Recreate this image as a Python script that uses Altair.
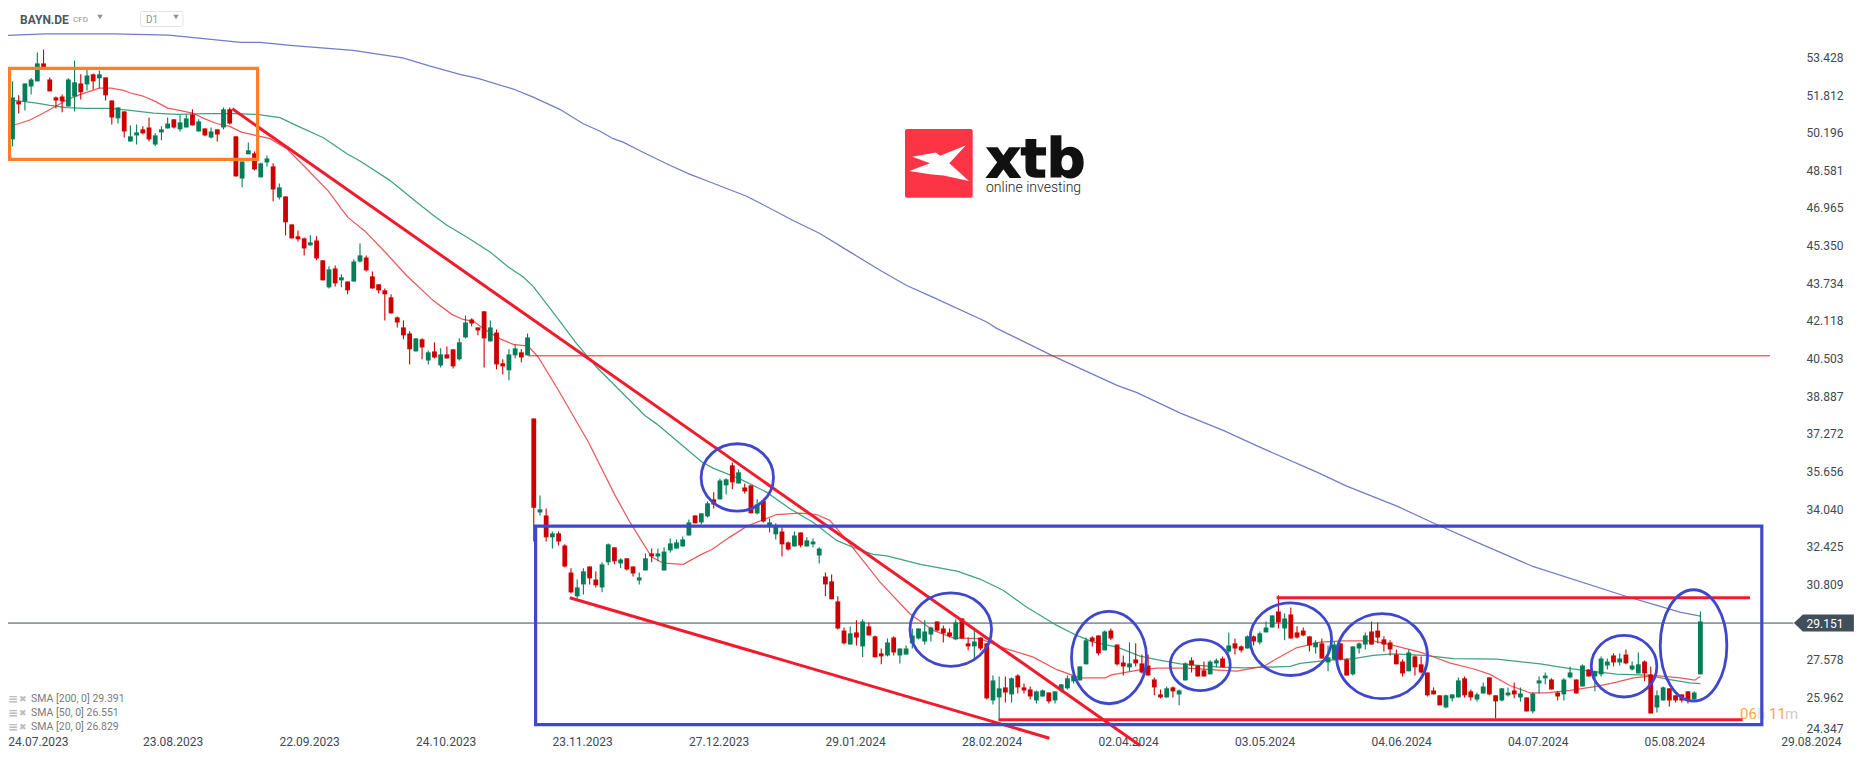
import json
import altair as alt
import pandas as pd

# ---------- candles (price units), bar by bar ----------
highs = [51.97,52.40,51.80,52.31,52.54,53.64,53.77,52.57,51.75,51.84,52.53,53.30,52.70,52.91,52.74,52.87,52.57,51.58,51.28,51.11,50.51,50.55,50.47,50.85,50.17,50.47,50.85,50.77,50.94,50.98,51.20,50.77,50.38,50.42,50.34,51.28,51.28,50.04,48.96,49.78,49.39,48.92,49.22,
 48.88,48.02,47.46,46.26,46.00,45.70,45.79,45.75,44.72,44.46,44.50,44.12,43.81,44.76,45.44,44.93,44.24,43.69,43.51,43.26,42.31,42.14,41.67,41.37,41.37,40.85,41.20,40.94,41.02,40.90,41.37,42.35,42.23,41.84,42.53,42.14,41.75,40.47,40.90,41.11,40.90,41.58,
 37.93,34.63,34.07,33.08,33.08,32.53,31.50,31.02,31.50,31.58,31.37,31.76,32.57,32.40,31.93,31.93,31.58,31.32,32.14,32.35,32.35,32.40,32.78,32.74,32.87,33.60,33.77,33.86,34.37,34.76,35.36,35.36,36.04,35.74,35.14,35.06,34.46,34.50,33.64,33.43,33.26,32.65,33.08,33.04,32.83,32.78,32.40,31.32,31.24,30.30,28.96,29.00,29.27,29.31,29.18,28.62,28.06,28.49,28.58,28.06,28.19,28.92,28.92,29.27,29.00,29.22,29.05,28.92,29.31,29.35,
 28.53,28.83,28.53,28.28,26.90,26.86,26.86,26.82,26.95,26.56,26.43,26.26,26.30,26.17,26.22,26.52,26.90,26.90,27.29,28.53,28.58,28.62,28.83,28.92,28.23,27.76,28.32,28.28,27.80,27.80,26.82,26.30,26.43,26.43,26.30,27.46,27.68,27.33,27.50,27.55,27.63,27.72,28.75,28.49,28.19,28.62,28.62,28.79,29.22,29.48,30.34,29.56,29.82,29.01,28.96,28.58,28.41,28.49,28.19,28.36,28.28,27.63,28.15,28.32,28.75,29.22,29.18,28.58,28.41,28.02,27.59,28.02,27.76,27.72,27.03,26.39,
 26.05,26.09,26.09,26.82,26.86,26.30,26.17,26.60,26.82,26.05,26.35,26.39,26.60,26.39,25.96,26.17,26.86,27.03,26.78,26.22,26.78,27.29,26.73,27.38,27.16,27.12,27.72,27.63,27.85,27.85,28.02,27.50,27.89,27.55,27.29,26.26,26.43,26.35,26.05,26.09,26.22,26.22,29.65]

body_tops = [51.65,51.71,51.54,52.31,52.48,53.17,53.17,52.48,51.71,51.75,52.48,52.36,52.31,52.65,52.70,52.70,52.57,51.58,51.28,51.11,50.04,50.21,50.34,50.42,50.08,50.34,50.59,50.77,50.64,50.81,50.98,50.68,50.38,50.25,50.34,51.20,51.20,50.04,48.96,49.44,49.31,48.88,49.09,
 48.75,47.85,47.46,46.26,45.75,45.66,45.49,45.57,44.72,44.33,44.37,43.99,43.81,44.67,44.93,44.84,44.03,43.69,43.43,43.13,42.27,41.84,41.58,41.37,41.33,40.77,40.81,40.68,40.68,40.90,41.20,42.05,42.18,41.84,42.53,41.84,41.62,40.30,40.68,40.94,40.77,41.41,
 37.93,34.03,33.77,33.00,33.00,32.48,31.32,30.68,31.37,31.58,31.02,31.67,32.53,32.40,31.88,31.93,31.58,31.11,31.93,32.14,32.14,32.22,32.57,32.61,32.74,33.47,33.77,33.86,34.29,34.46,35.27,35.32,35.92,35.62,34.97,35.06,34.24,34.41,33.47,33.30,33.08,32.61,32.91,33.04,32.70,32.65,32.35,31.15,30.94,30.08,28.83,28.71,28.75,29.22,29.01,28.58,27.85,28.32,28.53,28.06,28.06,28.62,28.92,28.79,28.96,29.22,28.92,28.75,29.18,29.35,
 28.28,28.36,28.53,28.28,26.69,26.35,26.39,26.78,26.90,26.39,26.30,26.22,26.26,26.17,26.22,26.52,26.78,26.90,27.29,28.41,28.53,28.62,28.79,28.83,28.23,27.46,27.42,27.59,27.42,27.33,26.73,26.09,26.35,26.39,26.26,27.42,27.55,27.33,27.12,27.50,27.55,27.63,28.19,28.28,28.15,28.58,28.58,28.71,28.96,29.48,29.65,29.35,29.52,28.75,28.83,28.58,28.32,28.28,27.68,28.23,28.28,27.59,28.15,28.28,28.62,28.79,28.83,28.45,28.32,27.80,27.50,27.89,27.72,27.38,27.03,26.26,
 26.05,26.05,26.09,26.69,26.78,26.22,26.09,26.43,26.82,26.05,26.35,26.17,26.26,26.13,25.96,26.13,26.69,26.90,26.73,26.17,26.73,27.03,26.73,27.33,27.16,27.08,27.63,27.50,27.76,27.63,27.80,27.33,27.38,27.50,26.95,26.05,26.39,26.35,26.05,26.09,26.22,26.17,29.22]

body_bottoms = [51.37,49.91,51.41,51.54,52.18,52.40,53.00,51.97,51.58,51.54,51.32,51.75,51.93,52.27,52.40,52.53,51.80,50.85,50.81,50.25,49.82,50.08,50.17,49.91,49.69,50.21,50.38,50.42,50.34,50.42,50.51,50.25,50.08,49.99,50.12,50.42,50.59,48.32,48.23,49.27,48.62,48.28,48.92,
 47.76,47.42,46.35,45.66,45.62,45.23,45.36,44.80,43.86,43.56,43.73,43.86,43.43,43.81,44.67,44.29,43.51,43.43,43.26,42.44,42.05,41.50,40.90,40.81,40.98,40.42,40.55,40.21,40.51,40.17,40.47,41.41,42.01,41.71,41.37,41.24,40.25,40.17,40.00,40.64,40.55,40.64,
 34.10,33.90,32.83,32.83,32.65,31.58,30.47,30.30,30.81,31.07,30.77,30.68,31.76,31.80,31.71,31.45,31.28,30.98,31.41,32.01,32.01,31.41,32.27,32.35,32.44,32.91,33.43,33.47,33.73,34.24,34.46,35.06,35.19,35.14,34.80,33.86,33.86,33.51,33.30,32.96,32.53,32.31,32.44,32.48,32.44,32.53,32.05,30.81,30.17,28.92,28.28,28.23,28.53,28.15,28.62,27.68,27.72,27.76,27.89,27.76,27.80,28.28,28.49,28.36,28.66,28.83,28.71,28.58,28.45,28.49,
 28.15,28.15,28.06,25.92,25.83,25.96,26.17,26.09,26.39,26.26,26.00,25.83,26.00,25.79,25.83,26.26,26.35,26.65,26.69,27.38,28.36,27.85,27.98,28.49,27.38,27.29,27.25,27.42,27.03,26.90,26.39,25.96,25.96,26.22,26.09,26.69,27.33,26.86,26.86,26.95,27.42,27.25,27.93,28.06,27.98,28.06,28.36,28.32,28.75,28.96,29.18,28.92,28.49,28.53,28.62,28.19,28.11,27.63,27.46,27.59,27.59,26.90,26.95,28.06,28.23,28.23,28.53,28.23,28.02,27.38,26.99,27.08,27.25,27.03,26.05,26.09,
 25.62,25.53,25.92,25.96,26.05,25.96,25.87,26.13,26.09,25.79,25.83,26.05,26.09,25.96,25.36,25.36,26.56,26.78,26.30,26.00,26.09,26.82,26.13,26.43,26.86,26.86,26.95,27.33,27.46,27.46,27.42,27.16,26.99,26.99,25.27,25.53,25.83,25.83,25.83,25.83,25.83,25.87,26.95]

lows = [51.11,49.61,51.02,51.15,51.84,52.40,53.00,51.97,51.24,51.07,51.32,51.11,51.62,52.01,52.05,52.10,51.58,50.55,50.59,49.99,49.82,49.69,50.12,49.82,49.61,49.87,50.38,50.38,50.25,50.42,50.51,50.25,50.04,49.95,49.82,50.34,50.55,48.32,47.85,49.27,48.58,48.28,48.75,
 47.25,47.33,45.79,45.66,45.53,44.93,45.36,44.72,43.86,43.51,43.60,43.56,43.26,43.81,44.63,44.24,43.51,43.30,42.14,42.44,41.84,41.33,40.25,40.81,40.47,40.25,40.51,40.12,40.51,40.08,40.42,41.37,41.88,41.50,40.12,41.24,40.04,39.82,39.57,40.51,40.34,40.64,
 32.65,33.77,32.65,32.35,32.48,31.54,30.42,30.21,30.38,30.81,30.68,30.47,31.63,31.67,31.50,31.41,31.15,30.81,31.41,31.76,31.80,31.41,32.18,32.35,32.44,32.91,33.43,33.38,33.68,34.07,34.46,34.67,34.89,35.14,34.71,33.86,33.81,33.47,33.04,32.74,32.01,32.27,32.44,32.40,32.44,32.40,31.71,30.30,30.17,28.88,28.23,28.23,28.19,27.68,28.62,27.68,27.38,27.72,27.76,27.42,27.80,28.06,28.45,28.23,28.36,28.79,28.32,28.53,28.41,28.49,
 27.98,27.63,27.98,25.87,25.66,24.97,25.74,25.74,26.13,26.13,25.87,25.70,26.00,25.70,25.70,26.17,26.30,26.56,26.69,27.38,28.15,27.76,27.98,28.41,27.33,26.90,27.08,27.29,26.99,26.90,26.05,25.92,25.96,25.96,25.62,26.69,27.03,26.86,26.86,26.95,27.25,27.25,27.85,27.80,27.89,28.06,28.19,28.23,28.75,28.96,28.92,28.41,28.49,28.49,28.58,27.93,27.85,27.63,27.08,27.55,27.55,26.90,26.90,27.85,28.02,28.23,28.28,27.93,27.76,27.38,26.86,27.08,26.90,26.99,26.00,26.09,
 25.62,25.49,25.79,25.96,25.96,25.83,25.79,26.13,26.05,25.06,25.79,26.00,25.92,25.79,25.36,25.27,26.13,26.52,26.30,25.83,25.83,26.78,26.13,26.43,26.86,26.22,26.86,27.16,27.29,27.33,27.38,27.12,26.99,26.65,25.27,25.31,25.83,25.57,25.74,25.74,25.70,25.83,26.95]

up_bars = [1,3,4,5,10,11,13,15,18,20,21,24,25,26,28,29,31,33,35,38,39,41,42,
           44,49,52,54,56,57,66,68,70,73,74,78,81,82,84,
           86,88,92,93,96,97,99,102,103,105,106,107,108,109,110,112,113,115,116,118,121,123,124,127,129,130,131,136,138,142,144,145,146,147,148,149,153,
           156,159,160,162,166,167,169,170,171,172,173,174,177,181,187,189,190,194,195,197,200,202,203,204,206,211,213,214,217,218,219,226,
           232,233,234,237,238,241,242,244,246,247,248,251,252,254,256,257,258,260,262,263,266,267,272,273]
directions = ["g" if n in up_bars else "r" for n in range(len(highs))]

# ---------- moving averages (bar number, price) ----------
sma200_bar = [0,6.2,17.3,26.2,37.8,40.9,46.2,55.9,63.9,68.3,73.1,76,81.7,84.9,89.2,92.9,95.7,97.8,99.4,102.6,107,110.2,113.4,119.3,121.5,126.8,131.1,136,140.8,145.1,149.3,158,159.6,168.7,179,182.2,189.2,196.1,202,211.2,216,224.1,230.5,237.5,246,261.1,266,269.7,273]
sma200_val = [54.37,54.44,54.44,54.38,54.07,54.07,53.93,53.73,53.41,53.05,52.70,52.53,52.07,51.72,51.20,50.59,50.26,49.94,49.79,49.36,48.79,48.41,48.08,47.47,47.17,46.43,45.87,45.07,44.29,43.64,43.14,42.07,41.80,40.61,39.35,39.04,38.16,37.42,36.70,35.63,35.03,34.17,33.38,32.56,31.58,30.29,29.91,29.62,29.45]

sma50_bar = [0,3,4.9,7,9.7,13,16.7,20,23.7,27.5,32.3,36.6,40.4,44.1,46.8,51.1,54.9,57,61.8,66.1,68.8,71,74.2,78,80.9,83.3,84.9,88.7,91.9,95.1,99.4,102.9,104.8,108,112.1,113.9,118.2,122.5,126.3,130,133.8,137,139.7,141.9,147.3,153.2,156.9,160.7,164.4,169.3,172.5,175.2,179,182.7,185.4,189.2,195.6,199.4,206.9,208.5,212.8,217.1,220.3,223.5,228.4,233.3,240.2,247.2,252,255.2,259.5,264.4,268.1,271.3,273]
sma50_val = [51.61,51.53,51.47,51.37,51.27,51.24,51.24,51.15,51.04,50.98,51.01,51.01,50.98,50.84,50.50,49.98,49.29,48.98,48.15,47.22,46.65,46.22,45.72,45.07,44.43,44.0,43.6,42.28,41.14,40.14,38.99,38.06,37.70,36.99,36.06,35.80,35.34,34.77,34.06,33.48,32.70,32.34,32.10,32.03,31.67,31.38,31.04,30.55,29.84,29.05,28.62,28.33,28.12,27.73,27.58,27.40,27.26,27.23,27.29,27.42,27.55,27.62,27.76,27.83,27.76,27.62,27.60,27.40,27.20,27.09,26.96,26.92,26.72,26.58,26.55]

sma20_bar = [0,2,3.9,6,7.9,10,11.9,13.9,15,16.9,18.9,20,21.9,24,26,27.9,30,31.9,34,36,37.9,40,42.5,45.2,47.9,51.9,54,55.1,57.8,61.3,64.5,68.8,71.8,73.6,75.3,76.9,79.6,81.7,84.1,85.7,89,93.8,98.1,100.5,104,105.9,109.1,112,113.7,116.6,119.3,124.1,127.9,130.6,132.7,135.9,140.8,145.6,149.4,152.6,156.9,160.7,165.5,169.3,173,177.1,178.1,182.2,185.4,190.2,196.1,198.3,202.6,204.7,207.9,211.7,215.4,220.3,223.5,227.8,229.4,232.7,236.4,239.1,242.3,245.6,248.2,252,256.3,259.5,262.2,265.9,269.7,272.1,273]
sma20_val = [50.47,50.58,50.75,51.04,51.32,51.64,51.83,52.01,52.11,52.11,52.01,51.90,51.78,51.54,51.25,51.15,51.04,50.80,50.58,50.47,50.22,50.09,49.94,49.51,48.79,47.69,46.93,46.55,45.97,45.00,44.07,42.99,42.40,42.18,42.10,41.78,41.35,41.11,41.04,40.57,39.13,36.92,34.63,33.48,31.98,31.72,31.67,32.10,32.31,32.84,33.30,33.81,33.87,33.81,33.56,32.56,30.91,29.55,28.83,28.52,28.48,28.09,27.69,27.15,26.80,26.80,26.93,27.12,27.22,27.22,27.12,27.09,27.29,27.62,28.09,28.33,28.39,28.39,28.19,27.90,27.76,27.43,27.19,26.95,26.47,26.15,26.15,26.26,26.43,26.62,26.80,26.90,26.80,26.70,26.86]

# ---------- axes ----------
date_labels = ["24.07.2023","23.08.2023","22.09.2023","24.10.2023","23.11.2023","27.12.2023","29.01.2024","28.02.2024","02.04.2024","03.05.2024","04.06.2024","04.07.2024","05.08.2024","29.08.2024"]
date_bars = [5.3,27,49,71,93,115,137,159,181,203,225,247,269,291]
price_ticks = [53.428,51.812,50.196,48.581,46.965,45.350,43.734,42.118,40.503,38.887,37.272,35.656,34.040,32.425,30.809,29.151,27.578,25.962,24.347]
last_price = 29.151

# ---------- hand-drawn annotations (bar number, price) ----------
trend_bar1 = [36.42, 90.8, 159.9, 204.7]
trend_bar2 = [182.7, 168.1, 279.8, 281.0]
trend_p1 = [51.22, 30.24, 25.0, 30.24]
trend_p2 = [23.90, 24.21, 25.0, 30.24]
ell_bar = [117.8,152.2,177.7,192.4,207,221.7,260.7,271.9]
ell_price = [35.40,28.87,27.67,27.35,28.46,27.73,27.30,28.19]
ell_halfw = [36.2,40.8,37.5,30,40.8,45.5,32.8,33.3]
ell_halfh = [33.7,36.7,46.2,25.5,36.3,42.5,30.8,55.7]

RED = "#cc0000"; GREEN = "#057d58"; BLUE = "#3f48cc"; LINE_RED = "#f01c2e"; ORANGE = "#ff7f27"
TEXT = "#3d4a54"

xs = alt.Scale(domain=[0.274, 298.4], nice=False, zero=False)
ys = alt.Scale(domain=[24.347, 55.548], nice=False, zero=False)
x_axis = alt.Axis(
    values=date_bars, labelExpr=json.dumps(date_labels)+"[round((datum.value-5)/22)]", title=None,
    domain=False, ticks=False, grid=False, labelFont="Roboto", labelFontSize=12, labelColor=TEXT,
    labelPadding=1, labelOffset=-1.3, labelOverlap=False, labelAngle=0, labelFlush=False)
y_axis = alt.Axis(
    orient="right", offset=-52, values=price_ticks, format=".3f", title=None, domain=False, ticks=False, grid=False,
    labelFont="Roboto", labelFontSize=12, labelPadding=0, labelOverlap=False, labelFlush=True, zindex=1,
    labelColor=alt.expr(f"datum.value=={last_price}?'#ffffff':'{TEXT}'"))
def X(f): return alt.X(f, type="quantitative", scale=xs, axis=x_axis)
def Y(f): return alt.Y(f, type="quantitative", scale=ys, axis=y_axis)

candles = pd.DataFrame(dict(i=range(len(highs)), h=highs, t=body_tops, b=body_bottoms, l=lows, d=directions))
color = alt.Color("d:N", scale=alt.Scale(domain=["r","g"], range=[RED, GREEN]), legend=None)

wicks = alt.Chart(candles).mark_rule(strokeWidth=1.1).encode(x=X("i"), y=Y("h"), y2="l:Q", color=color)
bodies = alt.Chart(candles).mark_rule(strokeWidth=4.8).encode(x=X("i"), y=Y("t"), y2="b:Q", color=color)

def sma(bar, val, col, w=1.25):
    return alt.Chart(pd.DataFrame(dict(i=bar, p=val))).mark_line(color=col, strokeWidth=w, opacity=0.85).encode(x=X("i"), y=Y("p"))
sma_layers = [sma(sma200_bar, sma200_val, "#5a64bd"), sma(sma50_bar, sma50_val, "#1d9068"), sma(sma20_bar, sma20_val, "#e53c40")]

level = alt.Chart(pd.DataFrame(dict(a=[84.1], c=[284.2], p=[40.62]))).mark_rule(color="#e3202e", strokeWidth=1).encode(x=X("a"), x2="c:Q", y=Y("p"))
price_line = alt.Chart(pd.DataFrame(dict(a=[0.274], c=[288.0], p=[last_price]))).mark_rule(color="#3d4c57", strokeWidth=1).encode(x=X("a"), x2="c:Q", y=Y("p"))

trends = alt.Chart(pd.DataFrame(dict(a=trend_bar1, c=trend_bar2, p=trend_p1, q=trend_p2))).mark_rule(color=LINE_RED, strokeWidth=3).encode(
    x=X("a"), x2="c:Q", y=Y("p"), y2="q:Q")

def box(b1, b2, p1, p2, col):
    return alt.Chart(pd.DataFrame(dict(a=[b1], c=[b2], p=[p1], q=[p2]))).mark_rect(fillOpacity=0, stroke=col, strokeWidth=3.2).encode(
        x=X("a"), x2="c:Q", y=Y("p"), y2="q:Q")
orange_box = box(0.52, 40.5, 52.96, 49.05, ORANGE)
blue_box = box(85.3, 282.9, 33.31, 24.79, BLUE)

ellipses = []
for b, p, a, h in zip(ell_bar, ell_price, ell_halfw, ell_halfh):
    r = max(a, h)
    ra, rb = a/r, h/r
    path = f"M{-ra:.3f},0 A{ra:.3f},{rb:.3f} 0 1,1 {ra:.3f},0 A{ra:.3f},{rb:.3f} 0 1,1 {-ra:.3f},0 Z"
    ellipses.append(alt.Chart(pd.DataFrame(dict(i=[b], p=[p]))).mark_point(
        shape=path, size=(2*r)**2, filled=False, stroke=BLUE, strokeWidth=2.8, opacity=1).encode(x=X("i"), y=Y("p")))

tag = alt.Chart(pd.DataFrame(dict(i=[292.9], p=[last_price]))).mark_point(
    shape="M-1,0 L-0.7,-0.283 L1,-0.283 L1,0.283 L-0.7,0.283 Z", size=3600, filled=True, fill="#404f5a", strokeWidth=0, opacity=1
).encode(x=X("i"), y=Y("p"))

# ---------- page furniture, placed in pixels ----------
OX, OY = 8, 8
def txt(s, x, y, size=12, col=TEXT, font="Roboto", weight="normal", align="left", baseline="middle", **kw):
    return alt.Chart(pd.DataFrame(dict(t=[s]))).mark_text(
        font=font, fontSize=size, color=col, fontWeight=weight, align=align, baseline=baseline, **kw
    ).encode(x=alt.value(x-OX), y=alt.value(y-OY), text="t:N")
def glyph(path, x, y, size, fill):
    return alt.Chart(pd.DataFrame(dict(t=[1]))).mark_point(shape=path, size=size, filled=True, fill=fill, strokeWidth=0, opacity=1).encode(
        x=alt.value(x-OX), y=alt.value(y-OY))
def pxrect(x1, x2, y1, y2, **kw):
    return alt.Chart(pd.DataFrame(dict(t=[1]))).mark_rect(**kw).encode(
        x=alt.value(x1-OX), x2=alt.value(x2-OX), y=alt.value(y1-OY), y2=alt.value(y2-OY))

chrome = [
    txt("BAYN.DE", 20, 19.5, 12, "#4b5762", weight="bold"),
    txt("CFD", 73, 20, 8, "#8a9299"),
    glyph("triangle-down", 100, 17, 30, "#8a9299"),
    pxrect(140.5, 183, 11.5, 26.5, fillOpacity=0, stroke="#dfe3e6", strokeWidth=1, cornerRadius=2),
    txt("D1", 146, 20, 10, "#8a9299"),
    glyph("triangle-down", 176, 17, 30, "#8a9299"),
    pxrect(905, 972.7, 129, 197.7, fill="#fd3446", cornerRadius=2),
    glyph("M-0.784,-0.196 L-0.09,-0.32 L0.03,-0.22 L0.784,-0.52 L0.304,0 L0.882,0.52 L0.13,0.36 L-0.265,0.324 L-0.873,0.225 L-0.265,0 Z", 939, 163.3, 4624, "#ffffff"),
    txt("xtb", 986, 177, 54, "#111111", font="DejaVu Sans", weight="bold", baseline="alphabetic", stroke="#111111", strokeWidth=1.4),
    txt("online investing", 986, 188, 14, "#222222", weight=300),
]
for label, yy in zip(["SMA [200, 0] 29.391", "SMA [50, 0] 26.551", "SMA [20, 0] 26.829"], [699, 713, 727]):
    chrome += [txt("\u2261", 8, yy, 12, "#bdbdbd", font="DejaVu Sans", weight="bold"),
               txt("\u2716", 19, yy, 9, "#bdbdbd", font="DejaVu Sans"),
               txt(label, 31, yy, 10.5, "#7a7a7a")]
chrome += [txt("06", 1740, 714, 15, "#ffa640"), txt("h", 1757, 714, 15, "#dddddd"),
           txt("11", 1769, 714, 15, "#ffa640"), txt("m", 1785, 714, 15, "#cccccc")]

chart = alt.layer(
    price_line, *chrome, *sma_layers, wicks, bodies, level, tag, trends, orange_box, blue_box, *ellipses
).properties(
    width=1850, height=727, padding={"left":0,"top":0,"right":0,"bottom":20},
    autosize=alt.AutoSizeParams(type="none"), background="white"
).configure_view(strokeWidth=0)

chart.save("out.html", embed_options={"renderer": "svg", "actions": False})
